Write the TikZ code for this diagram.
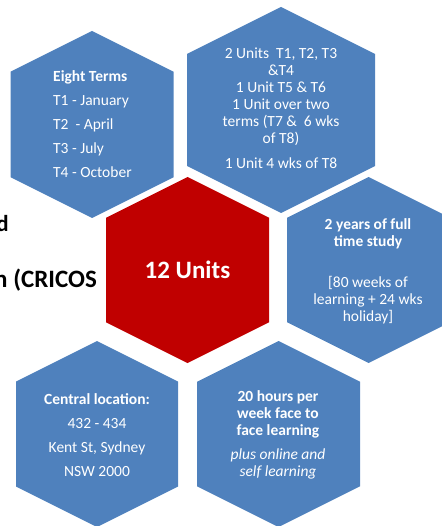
\documentclass[tikz,border=0pt]{standalone}
\usepackage{fontspec}
\setmainfont{Carlito}
\usepackage{xcolor}
\newcommand{\HexShape}[5]{%
  \fill[#5] (#1,{#2-#4/2}) -- ({#1+#3/2},{#2-#4/2+#3/4}) -- ({#1+#3/2},{#2+#4/2-#3/4})
    -- (#1,{#2+#4/2}) -- ({#1-#3/2},{#2+#4/2-#3/4}) -- ({#1-#3/2},{#2-#4/2+#3/4}) -- cycle;}

\begin{document}
\begin{tikzpicture}[x=1pt,y=-1pt]
\definecolor{chex}{rgb}{0.31,0.506,0.741}
\definecolor{cunits}{rgb}{0.753,0.0,0.0}
\definecolor{clhex}{rgb}{1.0,1.0,1.0}
\tikzset{
  hextext/.style={text=clhex,align=center,inner sep=0pt,font=\fontsize{15.5}{17}\selectfont},
  backtext/.style={text=black,inner sep=0pt,font=\fontsize{25}{30}\selectfont\bfseries},
}
\useasboundingbox (0,0) rectangle (441,526);
%
\node[backtext,font=\fontsize{23}{27}\selectfont\bfseries,anchor=base east] (back0) at (9,231) {d};
\node[backtext,anchor=base east] (back1) at (97,287) {n (CRICOS};
%
\HexShape{92}{124.5}{163}{187}{chex}
\HexShape{281}{110}{188}{206}{chex}
\HexShape{187.5}{270}{163}{186}{cunits}
\HexShape{368.5}{270}{163}{186}{chex}
\HexShape{97}{434}{162}{186}{chex}
\HexShape{278.5}{434}{163}{186}{chex}
%
\node[hextext,align=left,anchor=west] (terms) at (53,124.5)
  {\textbf{Eight Terms}\\[7pt] T1 - January\\[7pt] T2\ \ - April\\[7pt] T3 - July\\[7pt] T4 - October};
\node[hextext] (units) at (281,108)
  {2 Units\ \ T1, T2, T3\\ \&T4\\ 1 Unit T5 \& T6\\ 1 Unit over two\\ terms (T7 \&\ \ 6 wks\\ of T8)\\[8pt] 1 Unit 4 wks of T8};
\node[hextext,font=\fontsize{25}{30}\selectfont\bfseries] (twelve) at (187.5,270) {12 Units};
\node[hextext] (study) at (368,271)
  {\textbf{2 years of full}\\ \textbf{time study}\\[24pt] [80 weeks of\\ learning + 24 wks\\ holiday]};
\node[hextext] (location) at (97,435)
  {\textbf{Central location:}\\[7pt] 432 - 434\\[7pt] Kent St, Sydney\\[7pt] NSW 2000};
\node[hextext] (hours) at (278,435)
  {\textbf{20 hours per}\\ \textbf{week face to}\\ \textbf{face learning}\\[7pt] \textit{plus online and}\\ \textit{self learning}};
%
\end{tikzpicture}
\end{document}
